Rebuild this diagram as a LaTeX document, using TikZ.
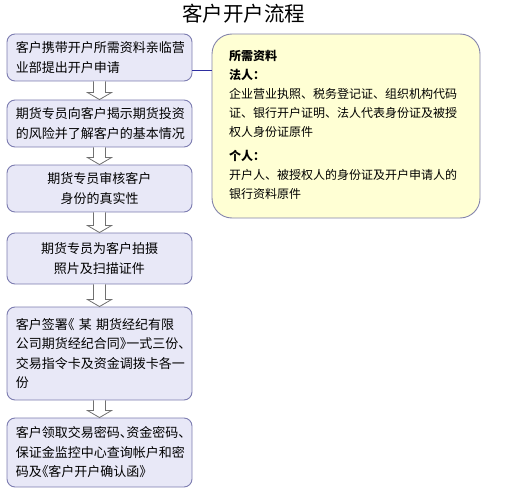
\documentclass[tikz,border=0pt]{standalone}
\usepackage{fontspec}
\setmainfont{Noto Sans CJK SC}
\usetikzlibrary{calc}
\definecolor{boxfill}{HTML}{E8E8F7}
\definecolor{boxline}{HTML}{7C7CB0}
\definecolor{notefill}{HTML}{FFFFD4}
\definecolor{noteline}{HTML}{8484AC}
\definecolor{linkline}{HTML}{2E2EA0}
\definecolor{arrline}{HTML}{707070}
\newcommand\hw[1]{{\addfontfeature{RawFeature=+halt}#1}}
\tikzset{
  stepbox/.style={draw=boxline, line width=0.9pt, fill=boxfill, rounded corners=8pt,
    minimum width=185pt, text width=167pt, inner sep=0pt,
    font=\fontsize{13}{19.5}\selectfont},
  notebox/.style={draw=noteline, line width=0.9pt, fill=notefill, rounded corners=20pt,
    minimum width=268pt, minimum height=184pt, inner sep=0pt},
  arr/.style={draw=arrline, fill=white, line width=0.8pt, line join=miter},
  link/.style={draw=linkline, line width=0.9pt},
}
\newcommand\blockarrow[2]{%
  \draw[arr] let \p1=(#1.south), \p2=(#2.north) in
    (\x1-6pt,\y1) -- (\x1-6pt,\y2+7pt) -- (\x1-12pt,\y2+7pt) -- (\x1,\y2)
    -- (\x1+12pt,\y2+7pt) -- (\x1+6pt,\y2+7pt) -- (\x1+6pt,\y1);}
\begin{document}
\begin{tikzpicture}[x=1pt,y=-1pt]
\useasboundingbox (0,0) rectangle (519,500);
\node[font=\fontsize{20.5}{24}\selectfont] (title) at (243.5,14) {客户开户流程};

\node[stepbox, minimum height=47pt, align=left] (b1) at (99.5,57.5)
  {客户携带开户所需资料亲临营\\业部提出开户申请};
\node[stepbox, minimum height=47pt, align=left] (b2) at (99.5,123.5)
  {期货专员向客户揭示期货投资\\的风险并了解客户的基本情况};
\node[stepbox, minimum height=47pt, align=center] (b3) at (99.5,188.5)
  {期货专员审核客户\\身份的真实性};
\node[stepbox, minimum height=51pt, align=center] (b4) at (99.5,258.5)
  {期货专员为客户拍摄\\照片及扫描证件};
\node[stepbox, minimum height=93pt, align=left] (b5) at (99.5,353.5)
  {客户签署\hw{《}\ 某\ 期货经纪有限\\公司期货经纪合同\hw{》}一式三份\hw{、}\\交易指令卡及资金调拨卡各一\\份};
\node[stepbox, minimum height=69pt, align=left] (b6) at (99.5,452.5)
  {客户领取交易密码\hw{、}资金密码\hw{、}\\保证金监控中心查询帐户和密\\码及\hw{《}客户开户确认函\hw{》}};

\node[notebox] (note) at (346,126) {};
\node[anchor=north west, align=left, inner sep=0pt,
  font=\fontsize{12}{19}\selectfont] (notetext) at (229,50)
  {{\bfseries 所需资料}\\
   {\bfseries 法人：}\\
   企业营业执照、税务登记证、组织机构代码\\
   证、银行开户证明、法人代表身份证及被授\\
   权人身份证原件\\[5pt]
   {\bfseries 个人：}\\
   开户人、被授权人的身份证及开户申请人的\\
   银行资料原件};

\draw[link] (b1.east |- 0,70) coordinate (l1) -- (note.west |- l1);

\blockarrow{b1}{b2}
\blockarrow{b2}{b3}
\blockarrow{b3}{b4}
\blockarrow{b4}{b5}
\blockarrow{b5}{b6}
\end{tikzpicture}
\end{document}
